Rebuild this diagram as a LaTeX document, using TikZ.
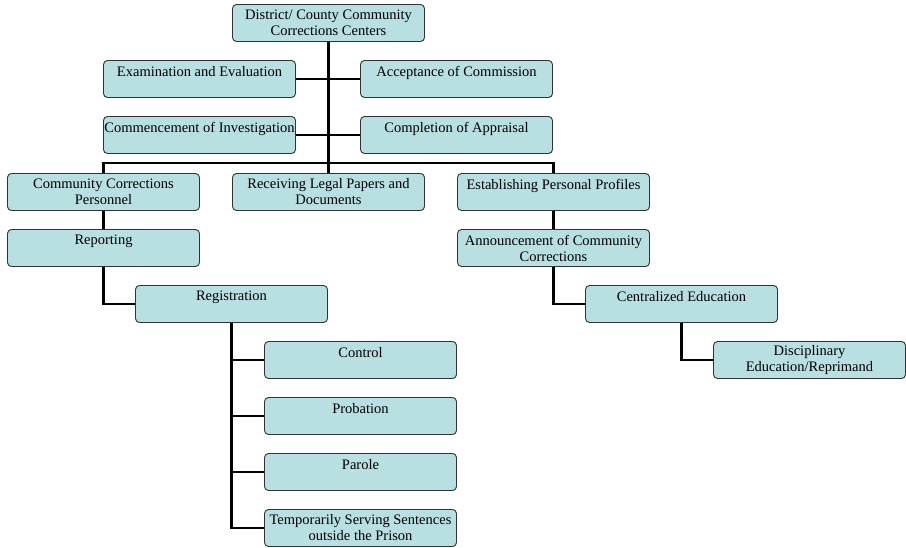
\documentclass[tikz,border=0pt]{standalone}
\usepackage{fontspec}
\setmainfont{Liberation Serif}
\definecolor{boxfill}{RGB}{184,223,226}
\definecolor{boxline}{RGB}{50,50,50}
\begin{document}
\begin{tikzpicture}[x=1pt,y=-1pt,
  box/.style={draw=boxline,line width=0.9pt,fill=boxfill,rounded corners=4pt,
    minimum width=192pt,minimum height=37pt,inner sep=1pt,align=center,
    font=\fontsize{14.5pt}{16pt}\selectfont,
    execute at begin node={\rule{0pt}{14pt}}},
  link/.style={line width=2.6pt,black},
  trunk/.style={line width=3.2pt,black}]
\useasboundingbox (0,0) rectangle (906,548);
\node[box] (top) at (328.5,23) {District/ County Community\\Corrections Centers};
\node[box] (exam) at (199.5,79) {Examination and Evaluation\\\mbox{}};
\node[box] (accept) at (456.5,79) {Acceptance of Commission\\\mbox{}};
\node[box] (commence) at (199.5,135) {Commencement of Investigation\\\mbox{}};
\node[box] (complete) at (456.5,135) {Completion of Appraisal\\\mbox{}};
\node[box] (ccp) at (103.5,192) {Community Corrections\\Personnel};
\node[box] (recv) at (328.5,192) {Receiving Legal Papers and\\Documents};
\node[box] (estab) at (553.5,192) {Establishing Personal Profiles\\\mbox{}};
\node[box] (report) at (103.5,248) {Reporting\\\mbox{}};
\node[box] (announce) at (553.5,248) {Announcement of Community\\Corrections};
\node[box] (regist) at (231.5,304) {Registration\\\mbox{}};
\node[box] (central) at (681.5,304) {Centralized Education\\\mbox{}};
\node[box] (disc) at (809.5,360) {Disciplinary\\Education/Reprimand};
\node[box] (control) at (360.5,360) {Control\\\mbox{}};
\node[box] (probation) at (360.5,416) {Probation\\\mbox{}};
\node[box] (parole) at (360.5,472) {Parole\\\mbox{}};
\node[box] (temp) at (360.5,528) {Temporarily Serving Sentences\\outside the Prison};
\coordinate (bar) at (0,163);
\draw[link] (exam.east) -- (accept.west);
\draw[link] (commence.east) -- (complete.west);
\draw[link] (ccp.north) -- (ccp.north |- bar) -- (estab.north |- bar) -- (estab.north);
\draw[trunk] (top.south) -- (recv.north);
\draw[link] (ccp.south) -- (report.north);
\draw[link] (report.south) |- (regist.west);
\draw[link] (estab.south) -- (announce.north);
\draw[link] (announce.south) |- (central.west);
\draw[link] (central.south) |- (disc.west);
\draw[link] (regist.south) |- (control.west);
\draw[link] (regist.south) |- (probation.west);
\draw[link] (regist.south) |- (parole.west);
\draw[link] (regist.south) |- (temp.west);
\end{tikzpicture}
\end{document}
